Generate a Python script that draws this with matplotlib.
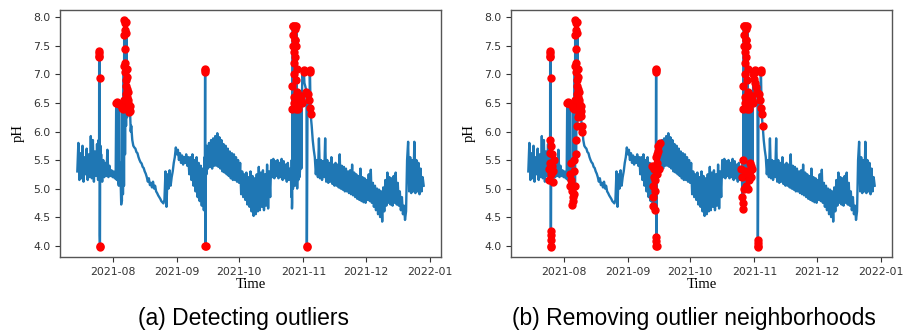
import numpy as np
import pandas as pd
import matplotlib
matplotlib.use('Agg')
import matplotlib.pyplot as plt
import matplotlib.dates as mdates

# pH readings every 12 h starting 2021-07-15 00:00 (outliers listed separately)
ph_base = [
    5.30, 5.80, 5.15, 5.62, 5.18, 5.75, 5.12, 5.55, 5.25, 5.70, 5.15, 5.60, 5.20, 5.92, 5.18, 5.85,
    5.12, 5.65, 5.22, 5.78, 5.15, 5.62, 5.25,
    5.60, 5.12, 5.50, 5.20, 5.45, 5.22, 5.68, 5.20, 5.40, 5.22, 5.32, 5.20, 5.30, 5.18,
    5.28, 5.15, 5.22, 5.05, 5.15, 4.95, 4.78, 4.90,
    5.05, 5.60, 6.10, 6.25, 6.30, 6.30, 6.28,
    6.10, 5.85, 5.75, 5.72, 5.70, 5.64, 5.62, 5.55, 5.50, 5.46, 5.44, 5.38, 5.36, 5.30, 5.26, 5.20,
    5.12, 5.18, 5.06, 5.10, 5.02, 5.12, 5.00, 5.05, 4.95, 4.92, 4.88, 4.85, 4.82, 4.78, 4.76, 4.74, 4.80,
    5.30, 4.68, 5.25, 5.00, 5.32, 5.05, 5.20, 5.30, 5.45, 5.55, 5.72, 5.60, 5.68,
    5.50, 5.62, 5.45, 5.58, 5.42, 5.55, 5.45, 5.60, 5.40, 5.55,
    5.25, 5.55, 5.15, 5.60, 5.05, 5.50, 4.95, 5.55, 4.85, 5.45, 4.78, 5.40, 4.70, 5.35, 4.62, 5.30,
    5.45, 5.75, 5.35, 5.80, 5.38, 5.85, 5.35, 5.88, 5.40, 5.92, 5.40, 5.97,
    5.38, 5.90, 5.35, 5.85, 5.30, 5.78, 5.28, 5.75, 5.25, 5.70, 5.22, 5.65, 5.18, 5.62, 5.15, 5.60,
    5.15, 5.55, 5.12, 5.50, 5.10, 5.45,
    4.90, 5.30, 4.85, 5.25, 4.80, 5.28, 4.72, 5.20, 4.68, 5.30, 4.60, 5.22, 4.52, 5.18, 4.55, 5.25,
    4.60, 5.38, 4.62, 5.28, 4.68, 5.32, 4.62, 5.25, 4.70, 5.42, 4.65, 5.30, 4.85,
    5.50, 5.20, 5.52, 5.18, 5.48, 5.22, 5.50, 5.18, 5.45, 5.20, 5.52, 5.15, 5.48, 5.18, 5.42, 5.12,
    5.45, 5.15, 5.35, 5.20, 4.65,
    5.00, 5.30, 5.05, 5.25, 5.00, 5.30, 5.30, 5.40, 5.35, 7.00, 6.92, 6.85, 6.78, 6.70, 6.65, 6.55,
    6.42, 6.30, 6.10, 5.85, 5.68,
    5.55, 5.25, 5.50, 5.20, 5.88, 5.18, 5.50, 5.15, 5.48, 5.20, 5.88, 5.12, 5.50, 5.10, 5.45, 5.12,
    5.55, 5.08, 5.42,
    5.05, 5.45, 5.05, 5.42, 5.02, 5.60, 5.00, 5.40, 4.98, 5.38, 4.95, 5.35, 4.95, 5.30, 4.92, 5.32,
    4.90, 5.42, 4.88, 5.28, 4.85, 5.25, 4.82, 5.22, 4.80, 5.35, 4.78, 5.20, 4.76, 5.18, 4.75, 5.15,
    4.80, 5.25, 4.78, 5.33, 4.75, 5.10, 4.68, 5.05, 4.62, 5.00, 4.55, 4.98, 4.50, 4.95, 4.42, 5.02,
    4.60, 5.15, 4.70, 5.28, 4.75, 5.20, 4.72, 5.18, 4.70, 5.22, 4.75, 5.28, 4.72, 5.10, 4.70, 4.95,
    4.62, 4.85, 4.55, 4.70, 4.45, 4.60,
    5.50, 5.82, 4.95, 5.55, 4.92, 5.50, 4.95, 5.82, 4.92, 5.50, 4.95, 5.45, 4.90, 5.35, 4.95, 5.20,
    5.05,
]

# extra in-band readings logged around the disturbed periods
extra_time = [
    '2021-07-25 03:00', '2021-07-25 06:00', '2021-07-25 09:00', '2021-07-26 04:00', '2021-07-26 08:00',
    '2021-07-26 16:00',
    '2021-08-04 08:00', '2021-08-04 16:00', '2021-08-05 04:00', '2021-08-05 08:00', '2021-08-06 02:00',
    '2021-08-06 04:00', '2021-08-07 01:00', '2021-08-09 18:00',
    '2021-09-13 03:00', '2021-09-13 06:00', '2021-09-13 09:00', '2021-09-14 03:00', '2021-09-14 06:00',
    '2021-09-14 09:00', '2021-09-15 03:00', '2021-09-15 06:00', '2021-09-15 18:00',
    '2021-10-26 06:00', '2021-10-26 09:00', '2021-10-26 14:00', '2021-10-29 14:00', '2021-10-29 20:00',
    '2021-10-30 04:00',
]
extra_ph = [
    5.35, 5.85, 5.45, 5.75, 5.40, 5.30,
    5.25, 5.45, 4.72, 4.85, 5.30, 5.50, 5.85, 6.00,
    4.85, 5.05, 5.20, 4.95, 5.15, 5.55, 5.60, 5.25, 5.65,
    4.85, 5.50, 4.75, 5.15, 5.45, 5.20,
]

# outlier readings: time, pH, flagged as outlier in (a)
spike_time = [
    '2021-07-25 13:00', '2021-07-25 14:00', '2021-07-25 15:00', '2021-07-25 16:00', '2021-07-25 17:00',
    '2021-07-25 18:00', '2021-07-25 19:00', '2021-07-25 20:00', '2021-07-25 21:00', '2021-07-25 22:00',
    '2021-08-02 18:00', '2021-08-03 06:00', '2021-08-03 08:00', '2021-08-04 04:00', '2021-08-05 16:00',
    '2021-08-05 18:00',
    '2021-08-06 06:00', '2021-08-06 08:00', '2021-08-06 10:00',
    '2021-08-06 14:00', '2021-08-06 16:00', '2021-08-06 18:00', '2021-08-06 20:00', '2021-08-06 22:00',
    '2021-08-07 02:00', '2021-08-07 04:00', '2021-08-07 06:00', '2021-08-07 08:00', '2021-08-07 10:00',
    '2021-08-07 14:00', '2021-08-07 16:00', '2021-08-07 18:00', '2021-08-07 20:00', '2021-08-07 22:00',
    '2021-08-08 02:00', '2021-08-08 04:00', '2021-08-08 06:00', '2021-08-08 08:00', '2021-08-08 10:00',
    '2021-08-08 14:00', '2021-08-08 16:00', '2021-08-08 18:00', '2021-08-08 20:00', '2021-08-08 22:00',
    '2021-08-09 04:00', '2021-08-09 08:00',
    '2021-09-14 14:00', '2021-09-14 15:00', '2021-09-14 16:00', '2021-09-14 17:00', '2021-09-14 18:00',
    '2021-09-14 19:00', '2021-09-14 20:00',
    '2021-10-26 16:00', '2021-10-26 18:00', '2021-10-26 20:00', '2021-10-26 22:00',
    '2021-10-27 02:00', '2021-10-27 04:00', '2021-10-27 06:00', '2021-10-27 08:00', '2021-10-27 10:00',
    '2021-10-27 14:00', '2021-10-27 16:00', '2021-10-27 18:00', '2021-10-27 20:00', '2021-10-27 22:00',
    '2021-10-28 02:00', '2021-10-28 04:00', '2021-10-28 06:00', '2021-10-28 08:00', '2021-10-28 10:00',
    '2021-10-28 14:00', '2021-10-28 16:00', '2021-10-28 18:00', '2021-10-28 20:00', '2021-10-28 22:00',
    '2021-10-29 06:00', '2021-10-29 08:00', '2021-10-30 16:00', '2021-10-30 18:00', '2021-10-31 06:00',
    '2021-11-01 04:00', '2021-11-01 06:00',
    '2021-11-02 14:00', '2021-11-02 15:00', '2021-11-02 16:00', '2021-11-02 17:00',
    '2021-11-04 02:00', '2021-11-04 04:00',
]
spike_ph = [
    7.42, 7.38, 7.33, 7.30, 6.93, 4.25, 4.18, 4.10, 4.00, 3.98,
    6.50, 6.52, 6.50, 6.48, 6.45, 6.42,
    6.40, 6.55, 7.15,
    7.70, 7.95, 7.90, 7.78, 7.45,
    7.20, 7.05, 6.90, 6.80, 6.65,
    7.92, 7.72, 7.10, 6.95, 6.70,
    6.60, 6.75, 6.50, 6.45, 6.40,
    6.70, 6.55, 6.45, 6.38, 6.35,
    6.45, 6.36,
    7.10, 7.08, 7.05, 4.15, 4.08, 4.00, 3.99,
    6.40, 6.80, 7.50, 7.85,
    7.85, 7.70, 7.40, 7.00, 6.60,
    6.50, 7.20, 7.60, 7.85, 7.80,
    7.60, 7.30, 6.90, 6.60, 6.40,
    7.85, 7.50, 7.10, 6.70, 6.45,
    6.40, 6.60, 6.55, 6.62, 6.50,
    7.08, 7.05,
    4.10, 4.05, 4.00, 3.98,
    7.08, 7.05,
]
spike_in_a = [
    1, 1, 1, 1, 1, 0, 0, 0, 1, 1,
    1, 1, 1, 1, 1, 1,
    1, 1, 1,
    1, 1, 1, 1, 1,
    1, 1, 1, 1, 1,
    1, 1, 1, 1, 1,
    1, 1, 1, 1, 1,
    1, 1, 1, 1, 1,
    1, 1,
    1, 1, 1, 0, 0, 1, 1,
    1, 1, 1, 1,
    1, 1, 1, 1, 1,
    1, 1, 1, 1, 1,
    1, 1, 1, 1, 1,
    1, 1, 1, 1, 1,
    1, 1, 1, 1, 1,
    1, 1,
    0, 0, 1, 1,
    1, 1,
]

# regular readings also flagged in (a)
a_from = ['2021-11-02 12:00']
a_to = ['2021-11-04 12:00']

# neighbourhoods removed in (b)
nb_from = ['2021-07-24 18:00', '2021-08-04 00:00', '2021-09-12 12:00', '2021-10-25 12:00']
nb_to = ['2021-07-27 12:00', '2021-08-10 00:00', '2021-09-16 12:00', '2021-11-05 00:00']

base = pd.Series(ph_base, index=pd.date_range('2021-07-15', periods=len(ph_base), freq='12h'))
extra = pd.Series(extra_ph, index=pd.to_datetime(extra_time))
regular = pd.concat([base, extra]).sort_index()
spikes = pd.Series(spike_ph, index=pd.to_datetime(spike_time))
series = pd.concat([regular, spikes]).sort_index()
spike_a = np.array(spike_in_a, dtype=bool)


def window_mask(idx, starts, ends):
    m = np.zeros(len(idx), dtype=bool)
    for s, e in zip(starts, ends):
        m |= (idx >= pd.Timestamp(s)) & (idx <= pd.Timestamp(e))
    return m


red_a = pd.concat([regular[window_mask(regular.index, a_from, a_to)], spikes[spike_a]]).sort_index()
red_b = pd.concat([regular[window_mask(regular.index, nb_from, nb_to)], spikes]).sort_index()

fig = plt.figure(figsize=(9.08, 3.31), dpi=100)
ax_a = fig.add_axes([60 / 908, 74 / 331, 381 / 908, 247 / 331])
ax_b = fig.add_axes([511 / 908, 74 / 331, 381 / 908, 247 / 331])

for ax, red in [(ax_a, red_a), (ax_b, red_b)]:
    ax.plot(series.index, series.values, color='#1f77b4', lw=1.7, zorder=2)
    ax.plot(red.index, red.values, 'o', color='red', ms=5, ls='none', zorder=3)
    ax.set_ylim(3.8, 8.13)
    ax.set_yticks([4.0, 4.5, 5.0, 5.5, 6.0, 6.5, 7.0, 7.5, 8.0])
    ax.xaxis.set_major_locator(mdates.MonthLocator())
    ax.xaxis.set_major_formatter(mdates.DateFormatter('%Y-%m'))
    ax.tick_params(labelsize=7.8, colors='#333333', length=3.5, width=0.8)
    for sp in ax.spines.values():
        sp.set_color('#555555')
        sp.set_linewidth(1.0)
    ax.set_xlabel('Time', family='Liberation Serif', fontsize=10.5, labelpad=1)
    ax.set_ylabel('pH', family='Liberation Serif', fontsize=10.5, labelpad=6)

fig.text(243 / 908, 1 - 318 / 331, '(a) Detecting outliers', ha='center', va='center',
         family='Liberation Sans', fontsize=16.5)
fig.text(694 / 908, 1 - 318 / 331, '(b) Removing outlier neighborhoods', ha='center', va='center',
         family='Liberation Sans', fontsize=16.5)

fig.savefig('out.png', dpi=100)
